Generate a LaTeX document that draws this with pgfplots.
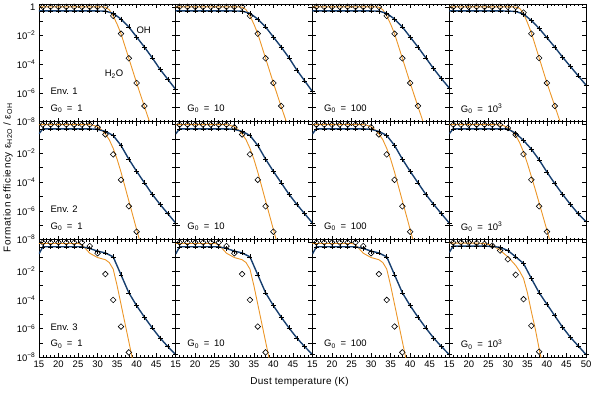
\documentclass[border=0pt]{standalone}
\usepackage{fontspec}
\setmainfont{Liberation Sans}
\usepackage{pgfplots}
\pgfplotsset{compat=1.18}
\usepgfplotslibrary{groupplots}
\usetikzlibrary{calc}
\definecolor{ohblue}{RGB}{22,62,110}
\definecolor{h2oorange}{RGB}{236,150,40}
\pgfplotsset{
  oh/.style={color=ohblue, line width=1.4pt, mark=+, mark indices={2,...,19}, mark size=2.5pt, mark options={black, line width=0.5pt}},
  h2o/.style={color=h2oorange, line width=0.9pt, mark=none},
  dia/.style={only marks, mark=square, mark size=2pt, mark options={black, rotate=45, line width=0.6pt, fill=none}},
}
\newcommand{\lab}{\fontsize{9.5}{11}\selectfont}
\newcommand{\ylabA}{10\textsuperscript{−8},,10\textsuperscript{−6},,10\textsuperscript{−4},,10\textsuperscript{−2},,1}
\newcommand{\ylabB}{10\textsuperscript{−8},,10\textsuperscript{−6},,10\textsuperscript{−4},,10\textsuperscript{−2},,}
\newcommand{\G}[1]{G\textsubscript{0}\enspace=\enspace#1}
\begin{document}
\begin{tikzpicture}
\begin{groupplot}[
  group style={group size=4 by 3, horizontal sep=0pt, vertical sep=0pt},
  width=137pt, height=118pt, scale only axis,
  xmin=15, xmax=50, ymode=log, ymin=1e-8, ymax=1.58,
  xtick={15,20,...,50}, minor x tick num=4,
  ytick={1e-8,1e-7,1e-6,1e-5,1e-4,1e-3,1e-2,1e-1,1}, yminorticks=false,
  xticklabels={}, yticklabels={},
  tick align=inside, major tick length=4pt, minor tick length=2pt,
  axis line style={line width=0.8pt}, tick style={black, line width=0.6pt},
  tick label style={font=\lab},
]
% ---------- Env. 1 ----------
\nextgroupplot[yticklabels/.expand once={\ylabA}]
\addplot[h2o] coordinates {(15,1)(31,1)(32,0.95)(33,0.631)(34,0.234)(35,6.31e-2)(36,1.35e-2)(38,2.63e-4)(40,5.01e-6)(42,1.12e-7)(44,2.82e-9)};
\addplot[oh] coordinates {(15,0.525)(16,0.525)(18,0.525)(20,0.525)(22,0.525)(24,0.525)(26,0.525)(28,0.525)(30,0.52)(32,0.501)(34,0.355)(36,0.141)(38,3.98e-2)(40,7.94e-3)(42,1.58e-3)(44,2.82e-4)(46,4.47e-5)(48,8.91e-6)(50,1.78e-6)};
\addplot[dia] coordinates {(16,1)(18,1)(20,1)(22,1)(24,1)(26,1)(28,1)(30,1)(32,1)(34,0.234)(36,1.35e-2)(38,2.63e-4)(40,5.01e-6)(42,1.26e-7)};
\node[anchor=west, font=\lab] at (rel axis cs:0.06,0.26) {Env. 1};
\node[anchor=west, font=\lab] at (rel axis cs:0.06,0.11) {\G{1}};
\node[font=\lab] at (axis cs:41.8,2.5e-2) {OH};
\node[font=\lab] at (axis cs:34.2,2e-5) {H\textsubscript{2}O};

\nextgroupplot
\addplot[h2o] coordinates {(15,1)(31,1)(32,0.95)(33,0.631)(34,0.234)(35,6.31e-2)(36,1.35e-2)(38,2.63e-4)(40,5.01e-6)(42,1.12e-7)(44,2.82e-9)};
\addplot[oh] coordinates {(15,0.525)(16,0.525)(18,0.525)(20,0.525)(22,0.525)(24,0.525)(26,0.525)(28,0.525)(30,0.52)(32,0.501)(34,0.355)(36,0.141)(38,3.98e-2)(40,7.94e-3)(42,1.58e-3)(44,2.82e-4)(46,3.98e-5)(48,7.08e-6)(50,1.26e-6)};
\addplot[dia] coordinates {(16,1)(18,1)(20,1)(22,1)(24,1)(26,1)(28,1)(30,1)(32,1)(34,0.234)(36,1.35e-2)(38,2.63e-4)(40,5.01e-6)(42,1.26e-7)};
\node[anchor=west, font=\lab] at (rel axis cs:0.06,0.11) {\G{10}};

\nextgroupplot
\addplot[h2o] coordinates {(15,1)(31,1)(32,0.95)(33,0.631)(34,0.234)(35,6.31e-2)(36,1.35e-2)(38,2.63e-4)(40,5.01e-6)(42,1.12e-7)(44,2.82e-9)};
\addplot[oh] coordinates {(15,0.525)(16,0.525)(18,0.525)(20,0.525)(22,0.525)(24,0.525)(26,0.525)(28,0.525)(30,0.52)(32,0.501)(34,0.355)(36,0.141)(38,3.98e-2)(40,7.94e-3)(42,1.58e-3)(44,2.82e-4)(46,5.01e-5)(48,1e-5)(50,2.24e-6)};
\addplot[dia] coordinates {(16,1)(18,1)(20,1)(22,1)(24,1)(26,1)(28,1)(30,1)(32,1)(34,0.234)(36,1.35e-2)(38,2.63e-4)(40,5.01e-6)(42,1.26e-7)};
\node[anchor=west, font=\lab] at (rel axis cs:0.06,0.11) {\G{100}};

\nextgroupplot
\addplot[h2o] coordinates {(15,1)(31,1)(32,0.95)(33,0.794)(34,0.355)(35,7.94e-2)(36,1.58e-2)(38,2.82e-4)(40,5.01e-6)(42,1.26e-7)(44,3.16e-9)};
\addplot[oh] coordinates {(15,0.525)(16,0.525)(18,0.525)(20,0.525)(22,0.525)(24,0.525)(26,0.525)(28,0.525)(30,0.51)(32,0.479)(34,0.316)(36,0.112)(38,3.16e-2)(40,7.08e-3)(42,1.58e-3)(44,3.16e-4)(46,7.08e-5)(48,1.58e-5)(50,3.55e-6)};
\addplot[dia] coordinates {(16,1)(18,1)(20,1)(22,1)(24,1)(26,1)(28,1)(30,1)(32,1)(34,0.398)(36,1.35e-2)(38,2.75e-4)(40,5.01e-6)(42,1.26e-7)};
\node[anchor=west, font=\lab] at (rel axis cs:0.06,0.11) {\G{10\textsuperscript{3}}};

% ---------- Env. 2 ----------
\nextgroupplot[yticklabels/.expand once={\ylabB}]
\addplot[h2o] coordinates {(15,1)(28,1)(29,0.891)(30,0.708)(31,0.447)(32,0.224)(33,8.91e-2)(34,2.24e-2)(35,3.98e-3)(36,5.01e-4)(37,5.01e-5)(38,5.01e-6)(39,5.01e-7)(40,5.01e-8)(41,5.01e-9)};
\addplot[oh] coordinates {(15,0.229)(16,0.513)(18,0.513)(20,0.513)(22,0.513)(24,0.513)(26,0.513)(28,0.513)(30,0.468)(32,0.339)(34,0.178)(36,3.55e-2)(38,3.98e-3)(40,5.62e-4)(42,8.91e-5)(44,1.41e-5)(46,2.82e-6)(48,6.31e-7)(50,1.41e-7)};
\addplot[dia] coordinates {(16,1)(18,1)(20,1)(22,1)(24,1)(26,1)(28,1)(30,0.661)(32,0.209)(34,8.51e-3)(36,1.45e-4)(38,2.09e-6)(40,3.55e-8)};
\node[anchor=west, font=\lab] at (rel axis cs:0.06,0.26) {Env. 2};
\node[anchor=west, font=\lab] at (rel axis cs:0.06,0.11) {\G{1}};

\nextgroupplot
\addplot[h2o] coordinates {(15,1)(28,1)(29,0.891)(30,0.708)(31,0.447)(32,0.224)(33,8.91e-2)(34,2.24e-2)(35,3.98e-3)(36,5.01e-4)(37,5.01e-5)(38,5.01e-6)(39,5.01e-7)(40,5.01e-8)(41,5.01e-9)};
\addplot[oh] coordinates {(15,0.229)(16,0.513)(18,0.513)(20,0.513)(22,0.513)(24,0.513)(26,0.513)(28,0.513)(30,0.468)(32,0.339)(34,0.178)(36,3.55e-2)(38,3.98e-3)(40,5.62e-4)(42,8.91e-5)(44,1.41e-5)(46,2.82e-6)(48,6.31e-7)(50,1.41e-7)};
\addplot[dia] coordinates {(16,1)(18,1)(20,1)(22,1)(24,1)(26,1)(28,1)(30,0.661)(32,0.209)(34,8.51e-3)(36,1.45e-4)(38,2.09e-6)(40,3.55e-8)};
\node[anchor=west, font=\lab] at (rel axis cs:0.06,0.11) {\G{10}};

\nextgroupplot
\addplot[h2o] coordinates {(15,1)(28,1)(29,0.891)(30,0.708)(31,0.447)(32,0.224)(33,8.91e-2)(34,2.24e-2)(35,3.98e-3)(36,5.01e-4)(37,5.01e-5)(38,5.01e-6)(39,5.01e-7)(40,5.01e-8)(41,5.01e-9)};
\addplot[oh] coordinates {(15,0.229)(16,0.513)(18,0.513)(20,0.513)(22,0.513)(24,0.513)(26,0.513)(28,0.513)(30,0.468)(32,0.339)(34,0.178)(36,3.55e-2)(38,3.98e-3)(40,5.62e-4)(42,8.91e-5)(44,1.41e-5)(46,2.82e-6)(48,6.31e-7)(50,1.41e-7)};
\addplot[dia] coordinates {(16,1)(18,1)(20,1)(22,1)(24,1)(26,1)(28,1)(30,0.661)(32,0.209)(34,8.51e-3)(36,1.45e-4)(38,2.09e-6)(40,3.55e-8)};
\node[anchor=west, font=\lab] at (rel axis cs:0.06,0.11) {\G{100}};

\nextgroupplot
\addplot[h2o] coordinates {(15,1)(27,1)(28,0.955)(29,0.832)(30,0.603)(31,0.355)(32,0.178)(33,5.62e-2)(34,1.26e-2)(35,2.0e-3)(36,2.51e-4)(37,3.16e-5)(38,3.55e-6)(39,3.98e-7)(40,4.47e-8)(41,5.01e-9)};
\addplot[oh] coordinates {(15,0.229)(16,0.513)(18,0.513)(20,0.513)(22,0.513)(24,0.513)(26,0.513)(28,0.513)(30,0.501)(32,0.251)(34,7.94e-2)(36,2.0e-2)(38,3.55e-3)(40,5.01e-4)(42,7.94e-5)(44,1.41e-5)(46,2.82e-6)(48,6.31e-7)(50,1.78e-7)};
\addplot[dia] coordinates {(16,1)(18,1)(20,1)(22,1)(24,1)(26,1)(28,1)(30,0.589)(32,0.2)(34,8.91e-3)(36,1.45e-4)(38,2.09e-6)(40,3.55e-8)};
\node[anchor=west, font=\lab] at (rel axis cs:0.06,0.11) {\G{10\textsuperscript{3}}};

% ---------- Env. 3 ----------
\nextgroupplot[yticklabels/.expand once={\ylabB}, xticklabels={15,20,25,30,35,40,45,}]
\addplot[h2o] coordinates {(15,0.85)(25,0.85)(26,0.708)(27,0.355)(28,0.178)(30,8.91e-2)(32,6.31e-2)(33,3.98e-2)(34,1.41e-2)(35,1e-3)(36,5.01e-5)(37,2.51e-6)(38,1.26e-7)(39,6.31e-9)};
\addplot[oh] coordinates {(15,0.158)(16,0.501)(18,0.501)(20,0.501)(22,0.501)(24,0.501)(26,0.501)(28,0.38)(30,0.251)(32,0.186)(34,0.1)(36,5.62e-3)(38,3.16e-4)(40,3.98e-5)(42,6.31e-6)(44,1.12e-6)(46,2.24e-7)(48,5.62e-8)(50,1.58e-8)};
\addplot[dia] coordinates {(16,1)(18,1)(20,1)(22,1)(24,1)(26,1)(28,0.562)(30,0.178)(32,6.31e-3)(34,1e-4)(36,1.41e-6)(38,2.24e-8)};
\node[anchor=west, font=\lab] at (rel axis cs:0.06,0.26) {Env. 3};
\node[anchor=west, font=\lab] at (rel axis cs:0.06,0.11) {\G{1}};

\nextgroupplot[xticklabels={15,20,25,30,35,40,45,}]
\addplot[h2o] coordinates {(15,0.85)(25,0.85)(26,0.708)(27,0.355)(28,0.178)(30,8.91e-2)(32,6.31e-2)(33,3.98e-2)(34,1.41e-2)(35,1e-3)(36,5.01e-5)(37,2.51e-6)(38,1.26e-7)(39,6.31e-9)};
\addplot[oh] coordinates {(15,0.158)(16,0.501)(18,0.501)(20,0.501)(22,0.501)(24,0.501)(26,0.501)(28,0.38)(30,0.251)(32,0.186)(34,0.1)(36,5.62e-3)(38,3.16e-4)(40,3.98e-5)(42,6.31e-6)(44,1.12e-6)(46,2.24e-7)(48,5.62e-8)(50,1.58e-8)};
\addplot[dia] coordinates {(16,1)(18,1)(20,1)(22,1)(24,1)(26,1)(28,0.562)(30,0.178)(32,6.31e-3)(34,1e-4)(36,1.41e-6)(38,2.24e-8)};
\node[anchor=west, font=\lab] at (rel axis cs:0.06,0.11) {\G{10}};

\nextgroupplot[xticklabels={15,20,25,30,35,40,45,}]
\addplot[h2o] coordinates {(15,0.85)(25,0.85)(26,0.708)(27,0.355)(28,0.178)(30,8.91e-2)(32,6.31e-2)(33,3.98e-2)(34,1.41e-2)(35,1e-3)(36,5.01e-5)(37,2.51e-6)(38,1.26e-7)(39,6.31e-9)};
\addplot[oh] coordinates {(15,0.158)(16,0.501)(18,0.501)(20,0.501)(22,0.501)(24,0.501)(26,0.501)(28,0.38)(30,0.251)(32,0.186)(34,0.1)(36,5.62e-3)(38,3.16e-4)(40,3.98e-5)(42,6.31e-6)(44,1.12e-6)(46,2.24e-7)(48,5.62e-8)(50,1.58e-8)};
\addplot[dia] coordinates {(16,1)(18,1)(20,1)(22,1)(24,1)(26,1)(28,0.562)(30,0.178)(32,6.31e-3)(34,1e-4)(36,1.41e-6)(38,2.24e-8)};
\node[anchor=west, font=\lab] at (rel axis cs:0.06,0.11) {\G{100}};

\nextgroupplot[xticklabels={15,20,25,30,35,40,45,50}]
\addplot[h2o] coordinates {(15,0.9)(22,0.9)(24,0.85)(26,0.631)(28,0.282)(30,0.1)(32,2.51e-2)(33,1e-2)(34,3.16e-3)(35,3.16e-4)(36,1.58e-5)(37,1e-6)(38,3.98e-8)(39,2e-9)};
\addplot[oh] coordinates {(15,0.2)(16,0.562)(18,0.562)(20,0.562)(22,0.562)(24,0.562)(26,0.525)(28,0.457)(30,0.275)(32,0.1)(34,3.47e-2)(36,3.16e-3)(38,3.16e-4)(40,5.01e-5)(42,7.94e-6)(44,1.26e-6)(46,2.51e-7)(48,6.31e-8)(50,1.58e-8)};
\addplot[dia] coordinates {(16,1)(18,1)(20,1)(22,0.93)(24,0.794)(26,0.6)(28,0.275)(30,6.76e-2)(32,5.62e-3)(34,1.12e-4)(36,1.58e-6)(38,2.51e-8)};
\node[anchor=west, font=\lab] at (rel axis cs:0.06,0.11) {\G{10\textsuperscript{3}}};
\end{groupplot}
\node[font=\fontsize{10}{12}\selectfont\addfontfeature{LetterSpace=3}] at ($(group c2r3.south east)+(-13pt,-25pt)$) {Dust temperature (K)};
\node[font=\fontsize{10}{12}\selectfont\addfontfeature{LetterSpace=6}, rotate=90] at ($(group c1r2.west)+(-31pt,3pt)$) {Formation efficiency ε\textsubscript{H2O} / ε\textsubscript{OH}};
\path ($(group c1r1.north west)+(-39pt,4pt)$) rectangle ($(group c4r3.south east)+(14pt,-39pt)$);
\end{tikzpicture}
\end{document}
